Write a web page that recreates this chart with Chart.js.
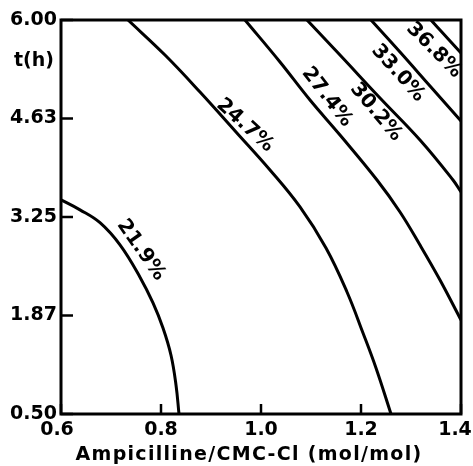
<!DOCTYPE html>
<html>
<head>
<title>Ampicilline contour</title>
<script src="https://cdn.jsdelivr.net/npm/chart.js"></script>
<style>body{margin:0;background:#fff}</style>
</head>
<body>
<div style="width:473px;height:466px"><canvas id="myChart"></canvas></div>
<script>
// axis ticks
const xTicks = [0.6, 0.8, 1.0, 1.2, 1.4];
const xTickLabels = ['0.6', '0.8', '1.0', '1.2', '1.4'];
const yTicks = [0.5, 1.875, 3.25, 4.625, 6.0];
const yTickLabels = ['0.50', '1.87', '3.25', '4.63', '6.00'];

// contour levels
const levels = ['21.9%', '24.7%', '27.4%', '30.2%', '33.0%', '36.8%'];
const c1x = [0.6, 0.638, 0.678, 0.718, 0.758, 0.784, 0.804, 0.82, 0.83, 0.836];
const c1y = [3.49, 3.35, 3.17, 2.86, 2.41, 2.05, 1.70, 1.32, 0.905, 0.5];
const c2x = [0.734, 0.808, 0.878, 0.95, 1.018, 1.078, 1.13, 1.172, 1.204, 1.23, 1.26];
const c2y = [6.0, 5.511, 4.995, 4.437, 3.906, 3.39, 2.817, 2.203, 1.631, 1.142, 0.5];
const c3x = [0.968, 1.038, 1.098, 1.158, 1.232, 1.278, 1.318, 1.358, 1.4];
const c3y = [6.0, 5.414, 4.883, 4.395, 3.767, 3.32, 2.859, 2.371, 1.812];
const c4x = [1.092, 1.158, 1.238, 1.318, 1.384, 1.4];
const c4y = [6.0, 5.511, 4.911, 4.325, 3.767, 3.6];
const c5x = [1.22, 1.278, 1.338, 1.4];
const c5y = [6.0, 5.553, 5.079, 4.59];
const c6x = [1.34, 1.358, 1.4];
const c6y = [6.0, 5.86, 5.539];

// where the level labels sit
const labelX = [0.76, 0.968, 1.132, 1.23, 1.274, 1.346];
const labelY = [2.79, 4.53, 4.925, 4.716, 5.26, 5.58];
const labelAngle = [55, 42, 52, 50, 48, 45];

const curves = [[c1x, c1y], [c2x, c2y], [c3x, c3y], [c4x, c4y], [c5x, c5y], [c6x, c6y]];

const datasets = curves.map((c, i) => ({
    label: levels[i],
    data: c[0].map((v, j) => ({ x: v, y: c[1][j] })),
    showLine: true,
    borderColor: '#000',
    borderWidth: 3,
    pointRadius: 0,
    tension: 0.4,
    fill: false
}));

const FONT = '"DejaVu Sans", sans-serif';

const decor = {
    id: 'decor',
    beforeDraw(chart) {
        // pull the end labels of the x axis in a little, as in the figure
        const items = chart.scales.x.getLabelItems();
        if (items.length) {
            items[0].options.translation[0] -= 4;
            items[items.length - 1].options.translation[0] -= 6;
        }
    },
    afterDatasetsDraw(chart) {
        const { ctx, chartArea: a, scales: { x, y } } = chart;
        ctx.save();
        ctx.strokeStyle = '#000';
        ctx.lineWidth = 3;
        ctx.strokeRect(a.left, a.top, a.right - a.left, a.bottom - a.top);
        // inward tick marks
        ctx.lineWidth = 2.5;
        xTicks.forEach(v => {
            const px = x.getPixelForValue(v);
            ctx.beginPath();
            ctx.moveTo(px, a.bottom);
            ctx.lineTo(px, a.bottom - 10);
            ctx.stroke();
        });
        yTicks.forEach(v => {
            const py = y.getPixelForValue(v);
            ctx.beginPath();
            ctx.moveTo(a.left, py);
            ctx.lineTo(a.left + 12, py);
            ctx.stroke();
        });
        // contour labels
        ctx.fillStyle = '#000';
        ctx.font = 'bold 20px ' + FONT;
        ctx.textAlign = 'center';
        ctx.textBaseline = 'middle';
        levels.forEach((t, i) => {
            ctx.save();
            ctx.translate(x.getPixelForValue(labelX[i]), y.getPixelForValue(labelY[i]));
            ctx.rotate(labelAngle[i] * Math.PI / 180);
            ctx.fillText(t, 0, 0);
            ctx.restore();
        });
        // axis titles
        ctx.font = 'bold 19px ' + FONT;
        ctx.fillText('t(h)', a.left - 27, a.top + 41);
        ctx.letterSpacing = '1.3px';
        ctx.fillText('Ampicilline/CMC-Cl (mol/mol)', (a.left + a.right) / 2 - 12, a.bottom + 41);
        ctx.restore();
    }
};

const config = {
    type: 'scatter',
    data: { datasets },
    options: {
        responsive: true,
        maintainAspectRatio: false,
        animation: false,
        layout: { padding: { top: 20, right: 12, bottom: 0, left: 0 } },
        plugins: { legend: { display: false }, tooltip: { enabled: false } },
        scales: {
            x: {
                type: 'linear',
                min: 0.6,
                max: 1.4,
                afterBuildTicks: s => { s.ticks = xTicks.map(v => ({ value: v })); },
                afterFit: s => { s.height = 52; s.paddingLeft = 0; s.paddingRight = 0; },
                ticks: {
                    padding: 5,
                    color: '#000',
                    font: { family: FONT, size: 19, weight: 'bold' },
                    callback: (v, i) => xTickLabels[i]
                },
                grid: { display: false, drawTicks: false },
                border: { display: false }
            },
            y: {
                type: 'linear',
                min: 0.5,
                max: 6.0,
                afterBuildTicks: s => { s.ticks = yTicks.map(v => ({ value: v })); },
                afterFit: s => { s.width = 61; s.paddingTop = 0; s.paddingBottom = 0; },
                ticks: {
                    padding: 4,
                    color: '#000',
                    font: { family: FONT, size: 19, weight: 'bold' },
                    callback: (v, i) => yTickLabels[i]
                },
                grid: { display: false, drawTicks: false },
                border: { display: false }
            }
        }
    },
    plugins: [decor]
};

var myChart = new Chart(document.getElementById('myChart'), config);
</script>
</body>
</html>
